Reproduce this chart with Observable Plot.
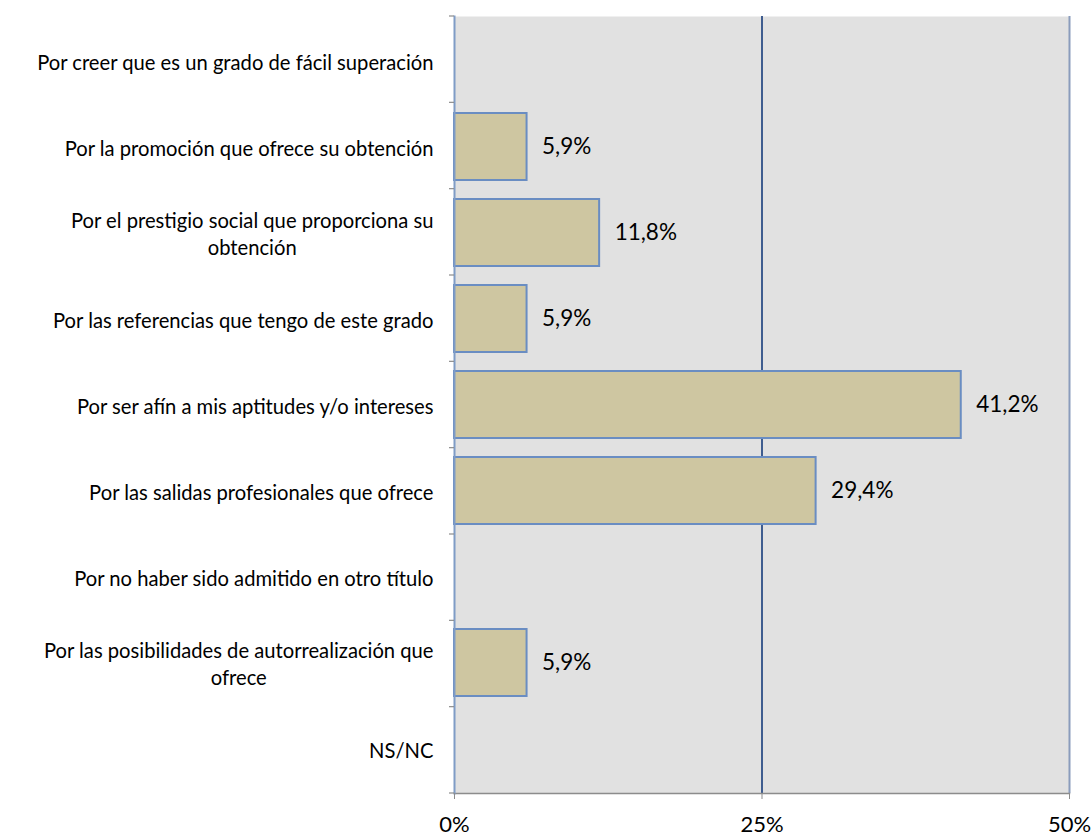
<!DOCTYPE html>
<html>
<head>
<meta charset="utf-8">
<script src="https://cdn.jsdelivr.net/npm/d3@7"></script>
<script src="https://cdn.jsdelivr.net/npm/@observablehq/plot@0.6"></script>
<style>
  html, body { margin: 0; padding: 0; background: #fff; }
  #chart svg { display: block; }
</style>
</head>
<body>
<div id="chart"></div>
<script>
const categories = [
  "Por creer que es un grado de fácil superación",
  "Por la promoción que ofrece su obtención",
  "Por el prestigio social que proporciona su\nobtención",
  "Por las referencias que tengo de este grado",
  "Por ser afín a mis aptitudes y/o intereses",
  "Por las salidas profesionales que ofrece",
  "Por no haber sido admitido en otro título",
  "Por las posibilidades de autorrealización que\nofrece",
  "NS/NC"
];
const values = [0, 5.9, 11.8, 5.9, 41.2, 29.4, 0, 5.9, 0];
const xTicks = [0, 25, 50];

const data = categories.map((c, i) => ({category: c, value: values[i]}));
const shown = data.filter(d => d.value > 0);
const fmt = v => v.toFixed(1).replace(".", ",") + "%";

const FONT = "Lato, 'Open Sans', sans-serif";

function boundaryTicks(index, scales, vals, dims) {
  const {marginTop, marginBottom, marginLeft, height} = dims;
  const n = categories.length;
  const step = (height - marginTop - marginBottom) / n;
  const g = d3.create("svg:g");
  for (let i = 0; i <= n; i++) {
    g.append("line")
      .attr("x1", marginLeft - 5).attr("x2", marginLeft)
      .attr("y1", marginTop + i * step).attr("y2", marginTop + i * step)
      .attr("stroke", "#8c8c8c").attr("stroke-width", 1.2);
  }
  return g.node();
}

const plot = Plot.plot({
  width: 1092,
  height: 837,
  marginTop: 16,
  marginBottom: 44,
  marginLeft: 454,
  marginRight: 23,
  style: {fontFamily: FONT, background: "#fff", color: "#000"},
  x: {domain: [0, 50]},
  y: {domain: categories, paddingInner: 0.225, paddingOuter: 0.1125},
  marks: [
    Plot.frame({fill: "#e1e1e1", stroke: null}),
    Plot.ruleX([25], {stroke: "#3f5d8f", strokeWidth: 2}),
    Plot.ruleX([50], {stroke: "#8a9cbc", strokeWidth: 2}),
    Plot.barX(shown, {x: "value", y: "category", fill: "#cec6a1", stroke: "#6a8dc2", strokeWidth: 2}),
    Plot.text(shown, {x: "value", y: "category", text: d => fmt(d.value), textAnchor: "start", dx: 15, fontSize: 22.5, fill: "#000"}),
    Plot.frame({anchor: "bottom", stroke: "#8c8c8c", strokeWidth: 1.5}),
    Plot.frame({anchor: "left", stroke: "#7f9cc6", strokeWidth: 2}),
    boundaryTicks,
    Plot.axisX({ticks: xTicks, tickFormat: d => d + "%", tickSize: 6, tickPadding: 17, fontSize: 22, stroke: "#8c8c8c", label: null}),
    Plot.axisY({tickSize: 0, tickPadding: 21, fontSize: 20.2, lineHeight: 1.35, label: null, textOverflow: null, lineWidth: Infinity})
  ]
});

document.getElementById("chart").appendChild(plot);

// center wrapped label lines within their block (block stays right-aligned)
d3.select(plot).selectAll("g[aria-label='y-axis tick label'] text").each(function() {
  const tspans = this.querySelectorAll("tspan");
  if (tspans.length > 1) {
    const w = this.getBBox().width;
    this.setAttribute("text-anchor", "middle");
    tspans.forEach(t => t.setAttribute("x", -w / 2));
  }
});
</script>
</body>
</html>
